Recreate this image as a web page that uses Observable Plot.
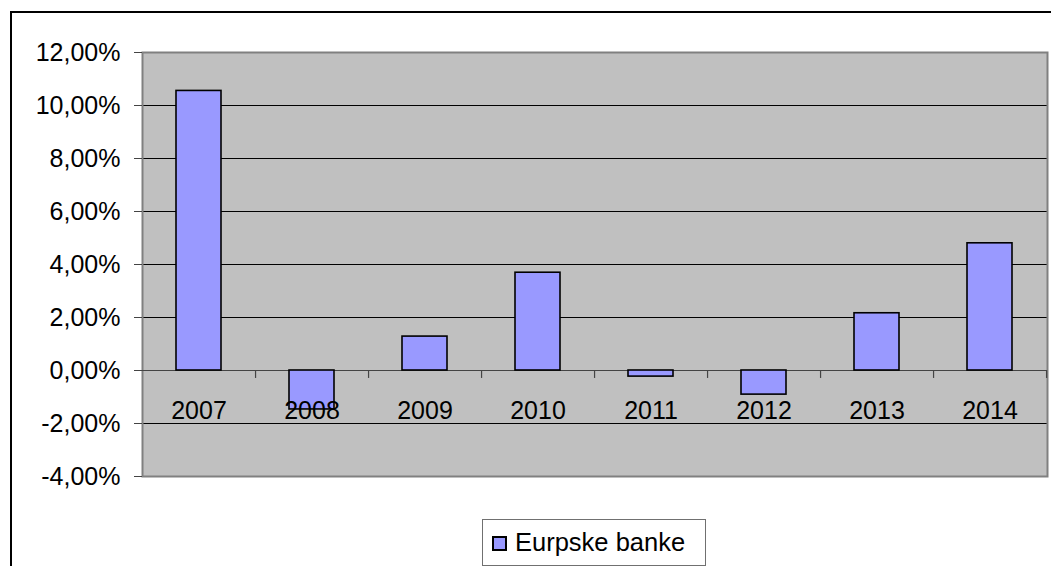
<!DOCTYPE html>
<html>
<head>
<meta charset="utf-8">
<script src="https://cdn.jsdelivr.net/npm/d3@7"></script>
<script src="https://cdn.jsdelivr.net/npm/@observablehq/plot@0.6"></script>
<style>
  html, body { margin: 0; padding: 0; background: white; }
  #wrap { position: relative; width: 1051px; height: 566px; overflow: hidden; font-family: "Liberation Sans", Arial, sans-serif; }
  #outer { position: absolute; left: 10px; top: 11px; width: 1200px; height: 700px; border: 2px solid black; box-sizing: border-box; }
  #chart { position: absolute; left: 0; top: 0; }
  #legend { position: absolute; left: 482px; top: 519px; width: 224px; height: 47px; border: 1px solid #707070; box-sizing: border-box; background: white; }
  #legend .sw { position: absolute; left: 9px; top: 16px; width: 15px; height: 15px; background: #9999FF; border: 2px solid black; box-sizing: border-box; }
  #legend .lb { position: absolute; left: 32px; top: 8px; font-size: 25.5px; line-height: normal; color: black; white-space: nowrap; }
</style>
</head>
<body>
<div id="wrap">
  <div id="outer"></div>
  <div id="chart"></div>
  <div id="legend"><div class="sw"></div><span class="lb">Eurpske banke</span></div>
</div>
<script>
const years = ["2007", "2008", "2009", "2010", "2011", "2012", "2013", "2014"];
const values = [0.1055, -0.0147, 0.0128, 0.0369, -0.0023, -0.0091, 0.0216, 0.0480];
const yTicks = [-0.04, -0.02, 0, 0.02, 0.04, 0.06, 0.08, 0.10, 0.12];
const seriesName = "Eurpske banke";

const data = years.map((year, i) => ({year, value: values[i]}));
const W = 1051, H = 510, ML = 142, MR = 4, MT = 52, MB = 34;
const step = (W - ML - MR) / years.length;
const fmt = d => (d * 100).toFixed(2).replace(".", ",") + "%";

const chart = Plot.plot({
  width: W, height: H,
  marginLeft: ML, marginRight: MR, marginTop: MT, marginBottom: MB,
  style: {background: "transparent", fontFamily: "'Liberation Sans', Arial, sans-serif", color: "black", overflow: "visible"},
  x: {domain: years, paddingInner: 0.6, paddingOuter: 0.3, axis: null},
  y: {domain: [-0.04, 0.12]},
  marks: [
    Plot.frame({fill: "#C0C0C0", stroke: "none"}),
    Plot.ruleY(yTicks.filter(t => t !== 0), {stroke: "black", strokeWidth: 1}),
    Plot.frame({stroke: "#808080", strokeWidth: 2}),
    Plot.ruleY([0], {stroke: "#444", strokeWidth: 1.2}),
    Plot.axisY({ticks: yTicks, tickFormat: fmt, tickSize: 8, tickPadding: 14, stroke: "#444", fill: "black", fontSize: 25, label: null}),
    Plot.ruleX(years, {x: d => d, y1: 0, y2: -0.003, dx: step / 2, stroke: "#444", strokeWidth: 1.2}),
    Plot.barY(data, {x: "year", y: "value", fill: "#9999FF", stroke: "black", strokeWidth: 1.6}),
    Plot.text(data, {x: "year", y: () => 0, dy: 40, text: "year", fontSize: 25, fill: "black"})
  ]
});
document.getElementById("chart").appendChild(chart);
document.querySelector("#legend .lb").textContent = seriesName;
</script>
</body>
</html>
